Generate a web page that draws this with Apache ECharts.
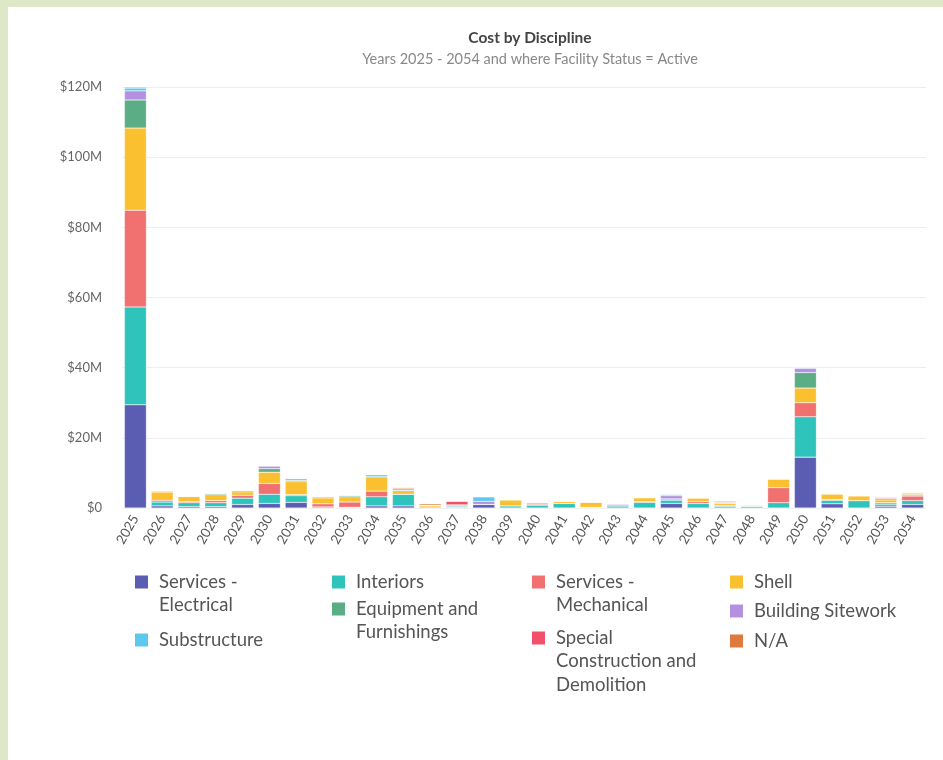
<!DOCTYPE html>
<html>
<head>
<meta charset="utf-8">
<script src="https://cdn.jsdelivr.net/npm/echarts@6/dist/echarts.min.js"></script>
<style>
  html, body { margin: 0; padding: 0; width: 943px; height: 760px; overflow: hidden; background: #dfe7c9; }
  #panel { position: absolute; left: 8px; top: 7px; width: 935px; height: 753px; background: #ffffff; }
  #chart { position: absolute; left: 0; top: 0; width: 943px; height: 760px; }
</style>
</head>
<body>
<div id="panel"></div>
<div id="chart"></div>
<script>
// Years on the category axis
const years = ['2025','2026','2027','2028','2029','2030','2031','2032','2033','2034',
               '2035','2036','2037','2038','2039','2040','2041','2042','2043','2044',
               '2045','2046','2047','2048','2049','2050','2051','2052','2053','2054'];

// Cost per discipline, millions of dollars, one value per year
const servicesElectrical = [29.4,0.6,0.4,0.4,1.0,1.3,1.6,0.3,0.2,0.6, 0.6,0,0.2,1.0,0,0,0,0,0,0, 1.3,0,0,0,0,14.5,1.2,0,0.5,1.0];
const interiors          = [27.9,1.1,1.1,1.1,1.8,2.6,1.9,0,0,2.6, 3.3,0,0.4,0,0.6,0.8,1.3,0.2,0.6,1.6, 1.0,1.3,0.5,0.5,1.5,11.5,1.0,2.1,0.6,1.1];
const servicesMechanical = [27.6,0.5,0.3,0.6,0.8,3.1,0.3,0.9,1.5,1.6, 0,0.3,0,0,0,0.3,0,0,0,0.2, 0,0.5,0.2,0,4.3,4.0,0.2,0,0.4,1.3];
const shell              = [23.4,2.4,1.5,1.7,1.0,3.2,3.7,1.7,1.5,4.1, 1.1,0.5,0,0,1.7,0.5,0.6,1.5,0,1.1, 0,1.1,0.6,0,2.5,4.2,1.6,1.4,0.8,0.5];
const equipment          = [8.0,0,0,0.4,0.4,1.0,0.4,0,0.4,0, 0,0,0,0,0.1,0,0.1,0,0.3,0.1, 0.3,0,0,0.3,0,4.4,0,0,0.4,0.3];
const buildingSitework   = [2.6,0,0,0,0,0.8,0,0.35,0,0, 0,0,0.3,0.9,0,0,0,0,0.3,0, 0.9,0,0.3,0,0,1.2,0,0,0,0.2];
const substructure       = [0.8,0.3,0.1,0,0,0,0.5,0,0.1,0.6, 0.5,0,0,1.3,0,0.1,0,0,0,0, 0.4,0,0,0,0,0.3,0.2,0,0,0.1];
const specialConstruction= [0.3,0,0,0,0,0,0,0,0,0, 0,0,1.0,0,0,0,0,0,0,0, 0,0,0,0,0,0,0,0,0.3,0];
const notAssigned        = [0,0,0,0,0,0,0,0,0,0, 0.3,0.4,0,0,0,0,0,0,0,0, 0,0,0.3,0,0,0,0,0,0,0];

// Y axis ticks (millions)
const yTicks = [0, 20, 40, 60, 80, 100, 120];

const seriesNames = ['Services - Electrical','Interiors','Services - Mechanical','Shell',
                     'Equipment and Furnishings','Building Sitework','Substructure',
                     'Special Construction and Demolition','N/A'];
const seriesValues = [servicesElectrical, interiors, servicesMechanical, shell, equipment,
                      buildingSitework, substructure, specialConstruction, notAssigned];
const palette = ['#5b5db3','#2ec4bc','#f07170','#fbc02f','#5aad85','#b391e0','#5cc8ee','#f2506a','#de7a3b'];

const FONT = 'Lato, "Source Sans Pro", sans-serif';
const LH = 23.5;
const SQ = 13;

// Legend entries laid out in four columns, wrapped onto several lines
const legendSpots = [
  { name: 'Services - Electrical', label: 'Services -\nElectrical', left: 135, y: 582 },
  { name: 'Interiors', label: 'Interiors', left: 332, y: 582 },
  { name: 'Services - Mechanical', label: 'Services -\nMechanical', left: 532, y: 582 },
  { name: 'Shell', label: 'Shell', left: 730, y: 582 },
  { name: 'Equipment and Furnishings', label: 'Equipment and\nFurnishings', left: 332, y: 609 },
  { name: 'Building Sitework', label: 'Building Sitework', left: 730, y: 611 },
  { name: 'Substructure', label: 'Substructure', left: 135, y: 640 },
  { name: 'Special Construction and Demolition', label: 'Special\nConstruction and\nDemolition', left: 532, y: 638 },
  { name: 'N/A', label: 'N/A', left: 730, y: 641 }
];

// A square swatch that sits level with the first text line: the path's
// box reaches down to the last line so the label block stays centred on it.
function swatch(lines) {
  const h = SQ + (lines - 1) * LH;
  return { h: h, icon: 'path://M0,0L' + SQ + ',0L' + SQ + ',' + SQ + 'L0,' + SQ + 'Z M0,' + h };
}

const legends = legendSpots.map(s => {
  const lines = s.label.split('\n').length;
  const sw = swatch(lines);
  return {
    data: [s.name],
    left: s.left,
    top: s.y - LH / 2,
    padding: 0,
    icon: lines > 1 ? sw.icon : 'rect',
    itemWidth: SQ,
    itemHeight: sw.h,
    selectedMode: false,
    formatter: () => s.label,
    itemStyle: { borderWidth: 0 },
    textStyle: {
      fontFamily: FONT, fontSize: 18.5, color: '#555', lineHeight: LH,
      padding: [0, 0, 0, 6]
    }
  };
});

const chart = echarts.init(document.getElementById('chart'), null, { renderer: 'canvas' });
chart.setOption({
  backgroundColor: 'transparent',
  animation: false,
  color: palette,
  title: {
    text: 'Cost by Discipline',
    subtext: 'Years 2025 - 2054 and where Facility Status = Active',
    left: 525,
    top: 25,
    textAlign: 'center',
    itemGap: 6,
    textStyle: { fontFamily: FONT, fontSize: 15.5, fontWeight: 'bold', color: '#444' },
    subtextStyle: { fontFamily: FONT, fontSize: 14.5, color: '#888' }
  },
  legend: legends,
  grid: { left: 122, right: 17, top: 87, bottom: 252, containLabel: false },
  xAxis: {
    type: 'category',
    data: years,
    axisTick: { show: false },
    axisLine: { show: true, lineStyle: { color: '#f0f0f0' } },
    axisLabel: { interval: 0, rotate: 60, margin: 8, color: '#555', fontFamily: FONT, fontSize: 13.5 }
  },
  yAxis: {
    type: 'value',
    min: yTicks[0],
    max: yTicks[yTicks.length - 1],
    interval: yTicks[1] - yTicks[0],
    axisLine: { show: false },
    axisTick: { show: false },
    splitLine: { lineStyle: { color: '#eeeeee' } },
    axisLabel: {
      margin: 20, color: '#666', fontFamily: FONT, fontSize: 13,
      formatter: v => v === 0 ? '$0' : '$' + v + 'M'
    }
  },
  series: seriesNames.map((name, i) => ({
    name: name,
    type: 'bar',
    stack: 'cost',
    barCategoryGap: '18%',
    data: seriesValues[i],
    itemStyle: { borderColor: 'rgba(255,255,255,0.5)', borderWidth: 0.5 },
    emphasis: { disabled: true }
  }))
});
</script>
</body>
</html>
